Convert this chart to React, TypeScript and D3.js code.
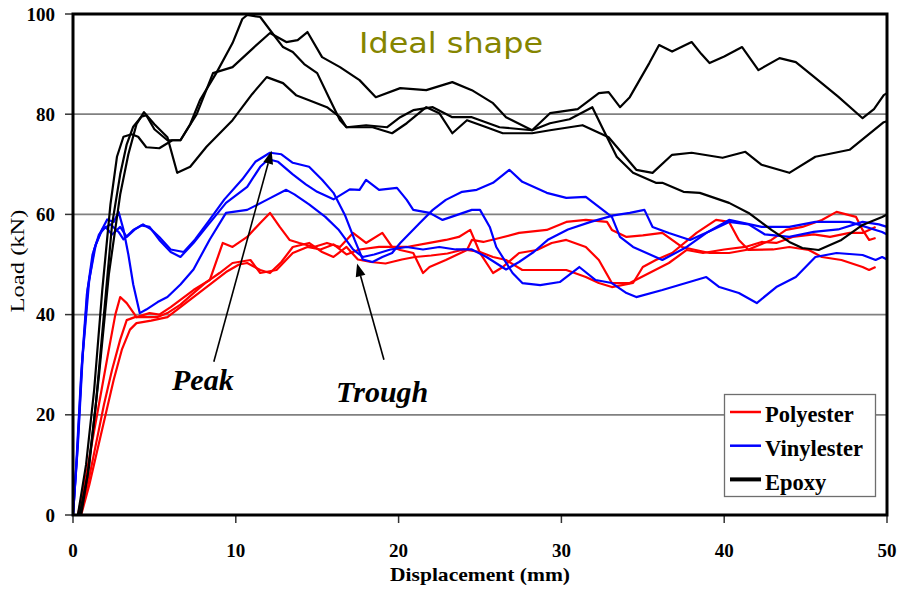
import React from "react";
import * as d3 from "d3";

// ---------- data (displacement mm, load kN) ----------
const X_TICKS = [0, 10, 20, 30, 40, 50];
const Y_TICKS = [0, 20, 40, 60, 80, 100];
const GRID_Y = [20, 40, 60, 80];

const polyester1: [number, number][] = [
  [0.3,0],[0.7,6],[1.2,15],[1.7,24],[2.2,33],[2.6,40],[2.9,43.5],[3.3,42.3],[3.9,39.5],[4.7,40.3],[5.3,40],[6,41.5],[7.4,44.9],[8.4,46.9],[9.2,54.3],[9.8,53.5],[10.7,55.5],[11.5,58.3],[12.1,60.3],[12.7,57.5],[13.3,54.9],[13.9,54.3],[14.8,53.5],[15.6,54.3],[16.4,53.5],[17.2,56.3],[18,54.3],[19,56.3],[19.6,53.5],[20.1,52.9],[20.9,52.3],[21.5,48.3],[21.9,49.5],[22.9,50.9],[24.2,52.9],[24.5,54.9],[25.2,54.5],[26.2,55.3],[27.4,56.3],[29.1,56.9],[30.3,58.5],[31.5,58.9],[32.8,58.5],[33.1,56.9],[34,55.5],[35,55.8],[36.2,56.3],[37.4,53.5],[39.1,52.3],[40.3,52.3],[41.5,53],[42.9,54.9],[43.8,56.9],[44.8,57.5],[46,58.9],[46.9,60.5],[48.1,59.5],[48.5,56.9],[48.9,54.9],[49.3,55.3]
];
const polyester2: [number, number][] = [
  [0.4,0],[0.9,6],[1.4,14],[1.9,22],[2.4,29],[2.9,35],[3.3,38.9],[3.8,39.5],[4.5,39.5],[5.2,39.5],[5.8,40.3],[6.6,42],[7.4,44.3],[8.2,46.5],[9,48.3],[9.8,50.3],[10.9,50.9],[11.5,48.3],[12.5,48.9],[13.5,52.3],[14.4,53.5],[15.2,53],[16,54],[16.8,52],[17.6,53],[18.8,53.5],[20.5,53.5],[21.9,54.3],[22.9,54.9],[23.7,55.5],[24.4,56.9],[25,52.3],[25.8,48.3],[26.4,49.5],[27.4,52.3],[28.5,52.9],[29.4,54.3],[30.3,54.9],[31.5,53.5],[32.3,50.9],[33.1,46.3],[34.2,46.3],[35.4,48.3],[36.6,50.3],[37.7,52.9],[38.7,52.3],[40,53],[41.3,53.5],[42.3,54.5],[43.2,54.3],[44.2,55.5],[45.5,56],[46.5,55.5],[47.7,56.3],[48.5,56.3],[49.3,57.5]
];
const polyester3: [number, number][] = [
  [0.5,0],[1,6],[1.5,13],[2,20],[2.5,27],[3,33],[3.5,37],[3.9,38.3],[4.8,38.8],[5.8,39.5],[6.6,41.5],[7.4,43.5],[8.4,46],[9.4,48.5],[10.2,50],[10.7,50.3],[11.5,48.9],[12.1,48.3],[12.8,50.5],[13.5,53.5],[14.5,54.3],[15.3,52.5],[16,51.5],[16.8,53.5],[17.5,51],[18.3,50.5],[19.2,50.2],[20.2,51],[21,51.5],[22,51.8],[23,52.2],[24,53],[25,52.5],[25.8,51.5],[26.6,50.9],[27.6,48.9],[29.1,48.9],[30.3,48.9],[31.5,47.5],[32.3,46.3],[33.1,45.5],[34.4,46.3],[35,49.5],[35.8,50.9],[36.8,52.3],[38.3,56.3],[39.5,58.9],[40.3,58.5],[40.9,54.9],[41.5,52.9],[43,53],[44,53.5],[45.2,52.9],[46,51.5],[47.2,50.9],[48.5,49.5],[48.9,48.9],[49.3,49.5]
];

const vinylester1: [number, number][] = [
  [0,0],[0.25,12],[0.55,30],[0.9,45],[1.3,53],[1.7,56.5],[2.1,59],[2.5,58.5],[2.8,60.5],[3.1,57],[3.4,52],[3.7,46],[4.1,40.3],[4.5,41],[5.2,42.5],[5.8,43.5],[6.6,46],[7.4,49],[8.4,55],[9.4,60.3],[10.7,60.9],[11.9,62.9],[13.1,64.9],[13.6,64],[14.5,62],[15.5,59.5],[16.3,57],[17.2,53],[17.8,51.5],[18.5,52],[19.5,53],[20.5,53.5],[21.5,53],[22.5,53.5],[23.5,53],[24.5,53],[25.4,51.5],[26.6,49],[27.4,50.5],[28.3,52.5],[29.2,55],[30.4,57],[31.8,58.5],[33.2,59.8],[34.2,60.3],[35.1,60.9],[35.6,57.5],[36.6,56.3],[37.9,54.9],[39,56.5],[40.3,58.5],[41.5,58],[42.5,56],[44,55.5],[45.5,56.5],[47,57],[48.5,58.5],[49.5,58],[50,57.5]
];
const vinylester2: [number, number][] = [
  [0,0],[0.3,14],[0.6,32],[1,47],[1.4,54],[1.8,57],[2.3,58],[2.8,56.5],[3.1,55],[3.7,56.9],[4.2,57.8],[4.7,57.5],[5.3,54.9],[6,52.5],[6.6,51.5],[7.4,54.3],[8.2,57.5],[9.4,62.3],[10.7,65.5],[11.5,69.5],[12,71],[12.6,70.5],[13.5,68],[14.3,66],[15,64.5],[16,63],[17,65],[17.6,64.9],[18,66.9],[18.8,64.9],[19.9,65.3],[20.5,62.9],[20.9,60.9],[21.9,60.3],[22.7,58.9],[23.6,59.9],[24.5,60.9],[25,60.9],[25.6,57.5],[26,53.5],[27,48.3],[27.6,46.3],[28.7,45.9],[29.9,46.5],[31.1,49.5],[32.1,46.9],[33.1,46.3],[34,44.3],[34.6,43.5],[36.2,44.9],[38.9,47.5],[39.7,45.5],[40.9,44.3],[42,42.3],[43.2,45.5],[44.4,47.5],[45.6,51.5],[46.9,52.3],[48.5,51.9],[49.3,50.9],[49.7,51.5],[50,51]
];
const vinylester3: [number, number][] = [
  [0,0],[0.2,10],[0.5,28],[0.85,44],[1.2,52],[1.6,56],[2,57.5],[2.4,56],[2.9,57.5],[3.3,55.5],[3.8,57],[4.3,58],[4.8,57],[5.3,55.5],[6,53],[6.8,52.5],[7.5,55],[8.3,58.5],[9.3,63],[10.4,67],[11.2,70.5],[12.1,72.3],[12.8,72],[13.5,70.3],[14.5,69.5],[15.3,66.9],[16,64.3],[16.7,59.9],[17.3,54.9],[17.8,51],[18.4,50.5],[19,51.5],[19.6,52.3],[20.1,54.3],[21.3,58.3],[22.1,60.9],[22.9,62.9],[23.9,64.5],[24.8,64.9],[25.8,66.3],[26.8,68.9],[27.6,66.5],[29.1,64.3],[30.3,63.3],[31.5,63.5],[32.3,61.5],[33.1,59.5],[33.6,55.5],[34.4,53.5],[36.2,50.9],[37.7,53.5],[39,56.5],[40.3,58.9],[42.3,57.5],[44,57.5],[45.6,58.5],[47.7,58.5],[49.7,56.5],[50,56]
];

const epoxy1: [number, number][] = [
  [0.4,0],[0.9,8],[1.4,22],[1.9,40],[2.4,58],[2.9,68],[3.3,74],[3.7,77.5],[4.2,79.5],[4.5,79.8],[5,77],[5.8,74.8],[6.6,74.8],[7.2,78],[7.8,82.8],[8.8,88.2],[9.8,94.2],[10.4,99],[10.7,99.8],[11.5,99.4],[12.1,96.8],[12.9,93.4],[13.5,92.4],[14.2,90],[15,88.2],[15.8,82.8],[16.4,78.8],[16.8,77.4],[18,77.8],[19.3,77.4],[20.1,79.4],[20.9,80.8],[22.1,81.4],[23.3,79.4],[24.5,79.4],[26.2,77.4],[28.2,76.8],[29.3,78.2],[30.5,79],[31.9,81.4],[32.5,77.4],[33.4,71.5],[34.4,68.3],[35.8,66.3],[36.2,66.3],[37.5,64.5],[38.5,64.3],[40.3,62.3],[41.5,60.3],[42.9,56.9],[44,54.5],[44.8,53.3],[45.8,52.9],[47.2,54.9],[48.5,57.9],[49.7,59.5],[50,60]
];
const epoxy2: [number, number][] = [
  [0.5,0],[1,10],[1.6,28],[2.2,48],[2.9,64],[3.4,72],[3.9,78],[4.36,80.4],[5,78],[5.8,75.4],[6.4,68.3],[7.2,69.5],[8.2,73.5],[9.8,78.8],[11,84],[11.9,87.4],[12.9,86.2],[13.7,83.8],[14.5,82.8],[15.6,81.4],[16.4,79.4],[16.8,77.4],[18.4,77.4],[19.6,76.2],[20.5,78.2],[21.7,81.4],[22.5,80.2],[23.3,76.2],[24.2,78.8],[25.4,77.4],[26.4,76.2],[28.2,76.2],[29.3,76.8],[31.3,77.8],[32.9,75.4],[34.6,68.9],[35.6,68.3],[36.8,71.9],[38,72.3],[39.9,71.3],[41.3,72.5],[42.3,69.9],[44,68.3],[45.6,71.5],[47.7,72.9],[49.8,78.4],[50,78.6]
];
const epoxy3: [number, number][] = [
  [0.3,0],[0.8,10],[1.3,25],[1.8,45],[2.3,62],[2.7,71.5],[3.1,75.5],[3.6,76],[4,75.5],[4.5,73.4],[5.3,73.2],[6.1,74.8],[6.6,74.8],[7.6,80],[8.6,88.2],[9.8,89.4],[11,93],[12.1,96.2],[13.1,94.4],[13.8,94.8],[14.4,96.4],[15.3,91.4],[16.4,89.4],[17.6,86.8],[18.6,83.4],[20.1,85.2],[21.7,84.8],[23.3,86.4],[24.5,84.8],[25.8,82.2],[26.6,79.4],[28.2,76.8],[29.3,80.2],[31,81],[32.3,84.2],[32.9,84.4],[33.6,81.4],[34.2,83.4],[34.8,86.8],[35.4,90.2],[36,93.8],[36.8,92.5],[38,94.4],[38.6,92],[39.1,90.2],[40,91.5],[41.1,93.4],[42.1,88.8],[43.4,91.2],[44.4,90.4],[45.5,87.5],[47,83.5],[48.5,79.2],[49.2,81],[49.8,83.8],[50,84.2]
];

const SERIES_NAMES = ["Polyester", "Vinylester", "Epoxy"];
const SERIES_COLORS = ["#ff0000", "#0000ff", "#000000"];
const seriesCurves = [
  [polyester1, polyester2, polyester3],
  [vinylester1, vinylester2, vinylester3],
  [epoxy1, epoxy2, epoxy3],
];

// annotation anchors in data units
const PEAK_ARROW: [number, number][] = [[8.65, 30.6], [12.2, 72.7]];
const TROUGH_ARROW: [number, number][] = [[19.1, 31.0], [17.45, 50.2]];

export default function App() {
  const W = 899, H = 591;
  const x = d3.scaleLinear().domain([0, 50]).range([73, 887]);
  const y = d3.scaleLinear().domain([0, 100]).range([515, 14]);
  const line = d3.line<[number, number]>().x(d => x(d[0])).y(d => y(d[1])).curve(d3.curveLinear);

  const arrowHead = (p0: [number, number], p1: [number, number]) => {
    const x0 = x(p0[0]), y0 = y(p0[1]), x1 = x(p1[0]), y1 = y(p1[1]);
    const a = Math.atan2(y1 - y0, x1 - x0);
    const L = 13, Wd = 5;
    const bx = x1 - L * Math.cos(a), by = y1 - L * Math.sin(a);
    const px = -Math.sin(a) * Wd, py = Math.cos(a) * Wd;
    return { line: [x0, y0, bx, by], pts: `${x1},${y1} ${bx + px},${by + py} ${bx - px},${by - py}` };
  };
  const pa = arrowHead(PEAK_ARROW[0], PEAK_ARROW[1]);
  const ta = arrowHead(TROUGH_ARROW[0], TROUGH_ARROW[1]);

  const serif = "'Liberation Serif', 'Times New Roman', serif";

  return (
    <svg width={W} height={H} style={{ position: "absolute", left: 0, top: 0, background: "#fff" }}>
      <rect x={0} y={0} width={W} height={H} fill="#fff" />
      {/* grid */}
      {GRID_Y.map(v => (
        <line key={v} x1={x(0)} x2={x(50)} y1={y(v)} y2={y(v)} stroke="#808080" strokeWidth={1.8} />
      ))}
      {/* y ticks */}
      {Y_TICKS.map(v => (
        <g key={v}>
          <line x1={65} x2={x(0)} y1={y(v)} y2={y(v)} stroke="#333" strokeWidth={1.5} />
          <text x={55} y={y(v)} dy="0.35em" textAnchor="end" fontFamily={serif} fontWeight="bold" fontSize={19}>{v}</text>
        </g>
      ))}
      {/* x ticks */}
      {X_TICKS.map(v => (
        <g key={v}>
          <line x1={x(v)} x2={x(v)} y1={y(0)} y2={523} stroke="#333" strokeWidth={1.5} />
          <text x={x(v)} y={557} textAnchor="middle" fontFamily={serif} fontWeight="bold" fontSize={19}>{v}</text>
        </g>
      ))}
      {/* curves */}
      {seriesCurves.map((curves, si) =>
        curves.map((c, ci) => (
          <path key={`${si}-${ci}`} d={line(c) || ""} fill="none" stroke={SERIES_COLORS[si]} strokeWidth={2.2} strokeLinejoin="round" />
        ))
      )}
      {/* frame */}
      <rect x={x(0)} y={y(100)} width={x(50) - x(0)} height={y(0) - y(100)} fill="none" stroke="#000" strokeWidth={3} />
      {/* annotations */}
      <text x={359} y={53} fontFamily="'DejaVu Sans', Verdana, sans-serif" fontSize={28} fill="#858500" textLength={184} lengthAdjust="spacingAndGlyphs">Ideal shape</text>
      <line x1={pa.line[0]} y1={pa.line[1]} x2={pa.line[2]} y2={pa.line[3]} stroke="#000" strokeWidth={1.6} />
      <polygon points={pa.pts} fill="#000" />
      <line x1={ta.line[0]} y1={ta.line[1]} x2={ta.line[2]} y2={ta.line[3]} stroke="#000" strokeWidth={1.6} />
      <polygon points={ta.pts} fill="#000" />
      <text x={172} y={390} fontFamily={serif} fontWeight="bold" fontStyle="italic" fontSize={30}>Peak</text>
      <text x={336} y={402} fontFamily={serif} fontWeight="bold" fontStyle="italic" fontSize={30}>Trough</text>
      {/* legend */}
      <rect x={724.5} y={394.5} width={151} height={102} fill="#fff" stroke="#6e6e6e" strokeWidth={1.3} />
      {SERIES_NAMES.map((n, i) => (
        <g key={n}>
          <line x1={730} x2={761} y1={412 + i * 33.7} y2={412 + i * 33.7} stroke={SERIES_COLORS[i]} strokeWidth={i === 2 ? 4 : 2.5} />
          <text x={765} y={421.5 + i * 34} fontFamily={serif} fontWeight="bold" fontSize={22.5}>{n}</text>
        </g>
      ))}
      {/* axis titles */}
      <text x={480} y={581} textAnchor="middle" fontFamily={serif} fontWeight="bold" fontSize={19} textLength={180} lengthAdjust="spacingAndGlyphs">Displacement (mm)</text>
      <text transform="translate(24,261) rotate(-90)" textAnchor="middle" fontFamily={serif} fontSize={19} textLength={103} lengthAdjust="spacingAndGlyphs">Load (kN)</text>
    </svg>
  );
}
